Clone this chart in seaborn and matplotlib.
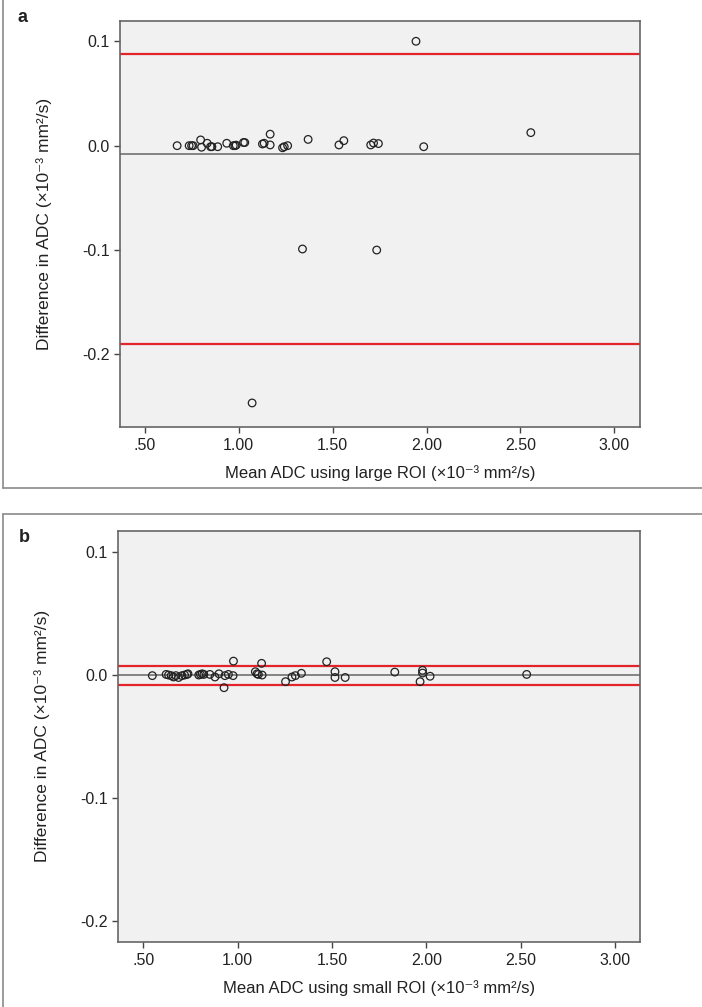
import numpy as np
import pandas as pd
import seaborn as sns
import matplotlib.pyplot as plt
from matplotlib.lines import Line2D

# panel a: large ROI
mean_large = [0.673, 0.737, 0.75, 0.758, 0.798, 0.803, 0.833, 0.851, 0.858, 0.889,
              0.937, 0.972, 0.981, 0.987, 1.026, 1.033, 1.127, 1.136, 1.168, 1.168,
              1.234, 1.243, 1.261, 1.37, 1.534, 1.56, 1.703, 1.718, 1.744, 1.985,
              1.944, 2.555, 1.34, 1.735, 1.072]
diff_large = [0.0, 0.0, 0.0, 0.0, 0.0055, -0.0015, 0.0023, -0.001, -0.001, -0.001,
              0.0023, 0.0, 0.0, 0.0005, 0.003, 0.003, 0.0016, 0.0023, 0.011, 0.0007,
              -0.002, -0.001, 0.0, 0.006, 0.0007, 0.0048, 0.0007, 0.0025, 0.002, -0.001,
              0.1, 0.0125, -0.099, -0.1, -0.2465]
mean_line_large = -0.0077
loa_large = [0.0878, -0.19]

# panel b: small ROI
mean_small = [0.548, 0.621, 0.634, 0.648, 0.66, 0.673, 0.687, 0.705, 0.719, 0.732,
              0.737, 0.794, 0.803, 0.812, 0.821, 0.853, 0.88, 0.901, 0.928, 0.933,
              0.951, 0.976, 0.978, 1.094, 1.103, 1.11, 1.13, 1.127, 1.254, 1.288,
              1.306, 1.338, 1.472, 1.516, 1.516, 1.57, 1.833, 1.98, 1.98, 1.967,
              2.02, 2.532]
diff_small = [-0.0005, 0.0005, 0.0, -0.0005, -0.0016, -0.0005, -0.002, -0.0005, 0.0, 0.0005,
              0.001, 0.0, 0.0005, 0.001, 0.0005, 0.0005, -0.0016, 0.001, -0.0103, -0.0005,
              0.0005, -0.0005, 0.0113, 0.0027, 0.001, 0.0005, 0.0, 0.0095, -0.0054, -0.0016,
              -0.0005, 0.0014, 0.0108, 0.0027, -0.002, -0.002, 0.0024, 0.0038, 0.0016, -0.0054,
              -0.001, 0.0005]
mean_line_small = 0.0
loa_small = [0.0077, -0.0077]

xticks = [0.5, 1.0, 1.5, 2.0, 2.5, 3.0]
xticklabels = ['.50', '1.00', '1.50', '2.00', '2.50', '3.00']
yticks = [0.1, 0.0, -0.1, -0.2]
yticklabels = ['0.1', '0.0', '-0.1', '-0.2']

sns.set_style('white')
plt.rcParams['font.family'] = ['Liberation Sans', 'DejaVu Sans']

fig = plt.figure(figsize=(7.02, 10.07), dpi=100)
ax_a = fig.add_axes([0.1704, 0.5763, 0.7413, 0.4024])
ax_b = fig.add_axes([0.1678, 0.0648, 0.7432, 0.4078])

def draw_panel(ax, x, y, mean_line, loa, ylim, xlim, xlabel):
    df = pd.DataFrame({'mean': x, 'diff': y})
    ax.set_facecolor('#f1f1f1')
    ax.axhline(mean_line, color='#666666', lw=1.1, zorder=1)
    for v in loa:
        ax.axhline(v, color='#e3242b', lw=1.6, zorder=1)
    sns.scatterplot(data=df, x='mean', y='diff', ax=ax, marker='o', s=30,
                    facecolor='none', edgecolor='#222222', linewidth=0.9, zorder=3)
    ax.set_xlim(xlim)
    ax.set_ylim(ylim)
    ax.set_xticks(xticks)
    ax.set_xticklabels(xticklabels)
    ax.set_yticks(yticks)
    ax.set_yticklabels(yticklabels)
    ax.tick_params(axis='both', direction='out', length=4, width=1, color='#444444',
                   labelsize=11.5, labelcolor='#222222', pad=3, left=True, bottom=True)
    ax.tick_params(axis='x', pad=4)
    for sp in ax.spines.values():
        sp.set_color('#666666')
        sp.set_linewidth(1.2)
    ax.set_xlabel(xlabel, fontsize=12, color='#222222', labelpad=9)
    ax.set_ylabel('Difference in ADC (\u00d710\u207b\u00b3 mm\u00b2/s)', fontsize=12.5,
                  color='#222222', labelpad=22)

draw_panel(ax_a, mean_large, diff_large, mean_line_large, loa_large,
           (-0.2692, 0.119), (0.367, 3.136),
           'Mean ADC using large ROI (\u00d710\u207b\u00b3 mm\u00b2/s)')
draw_panel(ax_b, mean_small, diff_small, mean_line_small, loa_small,
           (-0.2168, 0.117), (0.365, 3.13),
           'Mean ADC using small ROI (\u00d710\u207b\u00b3 mm\u00b2/s)')

# panel frames
W, H = 702.0, 1007.0
frame_kw = dict(color='#8a8a8a', lw=1.2, transform=fig.transFigure)
fig.add_artist(Line2D([2.5 / W, 2.5 / W], [1.0, 1 - 488 / H], **frame_kw))
fig.add_artist(Line2D([2.5 / W, 1.0], [1 - 488 / H, 1 - 488 / H], **frame_kw))
fig.add_artist(Line2D([2.5 / W, 1.0], [1 - 513.5 / H, 1 - 513.5 / H], **frame_kw))
fig.add_artist(Line2D([2.5 / W, 2.5 / W], [1 - 513.5 / H, 0.0], **frame_kw))

fig.text(17 / W, 1 - 18 / H, 'a', fontsize=13, fontweight='bold', va='center', color='#222222')
fig.text(19 / W, 1 - 538 / H, 'b', fontsize=13, fontweight='bold', va='center', color='#222222')

fig.savefig('out.png', dpi=100)
